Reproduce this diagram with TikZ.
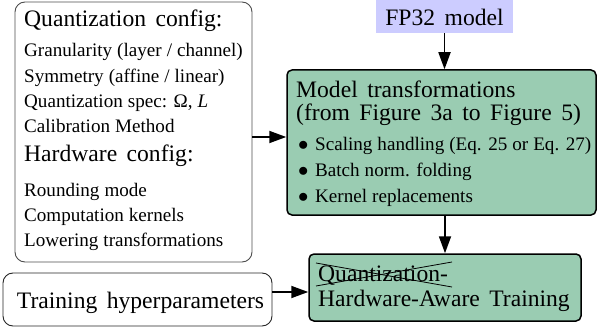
\documentclass[tikz,border=0pt]{standalone}
\usepackage{fontspec}
\setmainfont{Liberation Serif}
\usetikzlibrary{arrows.meta,calc}
\definecolor{mint}{RGB}{154,204,178}
\definecolor{lav}{RGB}{204,204,255}
\newcommand\bigfnt{\fontsize{23.6}{28}\selectfont\spaceskip 9.5pt\relax}
\newcommand\smallfnt{\fontsize{19.1}{23}\selectfont\spaceskip 5pt\relax}
\tikzset{
  cfgbox/.style={draw=black!70, line width=0.9pt, rounded corners=10pt, inner sep=0pt},
  greenbox/.style={draw=black, line width=1.5pt, fill=mint, rounded corners=5pt, inner sep=0pt},
  arr/.style={line width=1.8pt, -{Triangle[length=17pt,width=12pt]}},
  big/.style={font=\bigfnt, inner sep=0pt, anchor=base west},
  small/.style={font=\smallfnt, inner sep=0pt, anchor=base west},
  crossline/.style={line width=0.8pt},
}
\begin{document}
\begin{tikzpicture}[x=1pt,y=-1pt]
\useasboundingbox (0,0) rectangle (597,329);
% boxes
\node[cfgbox, minimum width=237pt, minimum height=260pt] (cfg) at (133.5,132) {};
\node[fill=lav, minimum width=137pt, minimum height=33pt, inner sep=0pt] (fp) at (444.5,16.5) {};
\node[greenbox, minimum width=309pt, minimum height=145pt] (mt) at (441.5,142.5) {};
\node[greenbox, minimum width=272pt, minimum height=67pt] (hat) at (445,287.5) {};
\node[cfgbox, draw=black!85, minimum width=269pt, minimum height=53pt] (hyp) at (137.5,299.5) {};
% left texts
\node[big] (c1) at (24,27) {Quantization config:};
\node[small] (c2) at (24,57) {Granularity (layer / channel)};
\node[small] (c3) at (24,82) {Symmetry (affine / linear)};
\node[small] (c4) at (24,107) {Quantization spec: Ω, \textit{L}};
\node[small] (c5) at (24,132) {Calibration Method};
\node[big] (c6) at (24,161) {Hardware config:};
\node[small] (c7) at (24,196) {Rounding mode};
\node[small] (c8) at (24,221) {Computation kernels};
\node[small] (c9) at (24,246) {Lowering transformations};
% fp32
\node[big, anchor=base] (fpt) at (444.5,26) {FP32 model};
% model texts
\node[big] (m1) at (296,97) {Model transformations};
\node[big] (m2) at (296,120) {(from Figure 3a to Figure 5)};
\node[small] (b1) at (298,150) {$\bullet$};
\node[small] (b2) at (298,176) {$\bullet$};
\node[small] (b3) at (298,202) {$\bullet$};
\node[small] (m3) at (315,150) {Scaling handling (Eq. 25 or Eq. 27)};
\node[small] (m4) at (315,176) {Batch norm. folding};
\node[small] (m5) at (315,202) {Kernel replacements};
% training texts
\node[big] (t1) at (318,281) {Quantization-};
\node[big] (t2) at (318,306) {Hardware-Aware Training};
\draw[crossline] (316,263) -- (452,287);
\draw[crossline] (316,286) -- (452,262);
\node[big, anchor=base] (ht) at (140.5,308) {Training hyperparameters};
% arrows
\draw[arr] (fp.south) -- (fp.south |- mt.north);
\draw[arr] ([yshift=-5pt]cfg.east) -- ([yshift=-5pt]cfg.east -| mt.west);
\draw[arr] (mt.south -| hat.north) -- (hat.north);
\draw[arr] ([yshift=-4.5pt]hat.west -| hyp.east) -- ([yshift=-4.5pt]hat.west);
\end{tikzpicture}
\end{document}
